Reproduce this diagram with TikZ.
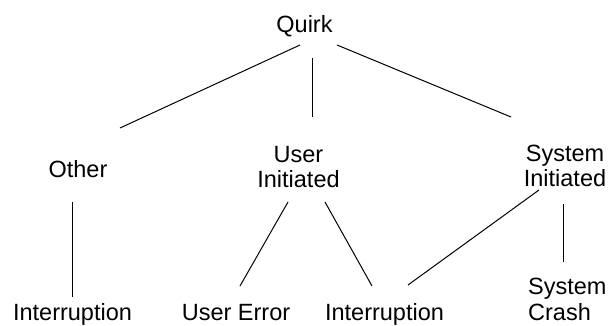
\documentclass[tikz,border=0pt]{standalone}
\usepackage{fontspec}
\setmainfont{Liberation Sans}
\begin{document}
\begin{tikzpicture}[x=1pt,y=-1pt,
  label/.style={inner sep=0pt,anchor=base,font=\fontsize{23.5}{24.5}\selectfont},
  twoline/.style={label,align=center},
  edge/.style={line width=1pt,black}]
\useasboundingbox (0,0) rectangle (610,326);

% tree nodes (multi-line nodes are placed by the baseline of their last line)
\node[label] (quirk) at (304.5,33) {Quirk};
\node[label] (other) at (78,177) {Other};
\node[twoline] (user) at (298.5,187) {User\\Initiated};
\node[twoline] (system) at (565,186) {System\\Initiated};
\node[label] (intA) at (72.5,320) {Interruption};
\node[label] (uerr) at (236,320) {User Error};
\node[label] (intB) at (384.5,320) {Interruption};
\node[label,align=left,anchor=base west,font=\fontsize{23.5}{26}\selectfont] (crash) at (528,320) {System\\Crash};

% connector end points
\coordinate (qL) at (300,45);
\coordinate (qM) at (312,58);
\coordinate (qR) at (337,45);
\coordinate (oT) at (120,128);
\coordinate (oB) at (72,202);
\coordinate (uT) at (312,117);
\coordinate (uBL) at (288,202);
\coordinate (uBR) at (325,202);
\coordinate (sT) at (511,117);
\coordinate (sBL) at (539,190);
\coordinate (sBR) at (563,204);
\coordinate (iaT) at (72,297);
\coordinate (ueT) at (240,286);
\coordinate (ibL) at (372,286);
\coordinate (ibR) at (408,285);
\coordinate (cT) at (563,262);

% connectors
\draw[edge] (qL) -- (oT);
\draw[edge] (qM) -- (uT);
\draw[edge] (qR) -- (sT);
\draw[edge] (oB) -- (iaT);
\draw[edge] (uBL) -- (ueT);
\draw[edge] (uBR) -- (ibL);
\draw[edge] (sBL) -- (ibR);
\draw[edge] (sBR) -- (cT);
\end{tikzpicture}
\end{document}
